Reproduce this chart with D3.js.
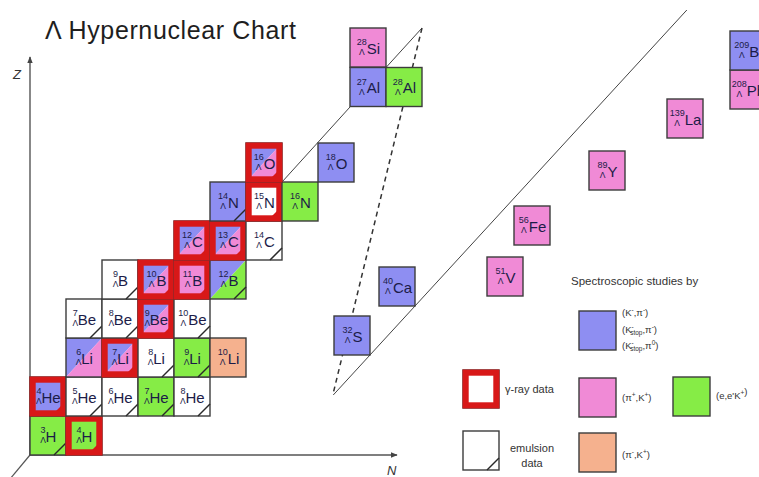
<!DOCTYPE html>
<html>
<head>
<meta charset="utf-8">
<script src="https://cdn.jsdelivr.net/npm/d3@7/dist/d3.min.js"></script>
<style>
  body { margin: 0; background: #fff; }
  svg { display: block; font-family: "Liberation Sans", Arial, sans-serif; }
</style>
</head>
<body>
<svg id="chart" width="759" height="477"></svg>
<script>
// Probe keys: K = (K-,pi-) / stopped K-, P = (pi+,K+), E = (e,e'K+), M = (pi-,K+)
// Each nuclide: [element, A, Z, probes, gamma-ray data, emulsion data]
const lightNuclides = [
  ["H", 3, 1, ["E"], false, true],
  ["H", 4, 1, ["E"], true, true],
  ["He", 4, 2, ["K"], true, true],
  ["He", 5, 2, [], false, true],
  ["He", 6, 2, [], false, true],
  ["He", 7, 2, ["E"], false, true],
  ["He", 8, 2, [], false, true],
  ["Li", 6, 3, ["K", "P"], false, false],
  ["Li", 7, 3, ["K", "P"], true, true],
  ["Li", 8, 3, [], false, true],
  ["Li", 9, 3, ["E"], false, true],
  ["Li", 10, 3, ["M"], false, false],
  ["Be", 7, 4, [], false, true],
  ["Be", 8, 4, [], false, true],
  ["Be", 9, 4, ["K", "P"], true, true],
  ["Be", 10, 4, [], false, true],
  ["B", 9, 5, [], false, true],
  ["B", 10, 5, ["K", "P"], true, true],
  ["B", 11, 5, ["P"], true, true],
  ["B", 12, 5, ["K", "E"], false, true],
  ["C", 12, 6, ["K", "P"], true, true],
  ["C", 13, 6, ["K", "P"], true, true],
  ["C", 14, 6, [], false, true],
  ["N", 14, 7, ["K"], false, true],
  ["N", 15, 7, [], true, true],
  ["N", 16, 7, ["E"], false, false],
  ["O", 16, 8, ["K", "P"], true, true],
  ["O", 18, 8, ["K"], false, false]
];

const midNuclides = [
  ["Al", 27, 13, ["K"], false, false],
  ["Al", 28, 13, ["E"], false, false],
  ["Si", 28, 14, ["P"], false, false]
];

const heavyNuclides = [
  ["S", 32, 16, ["K"], false, false],
  ["Ca", 40, 20, ["K"], false, false],
  ["V", 51, 23, ["P"], false, false],
  ["Fe", 56, 26, ["P"], false, false],
  ["Y", 89, 39, ["P"], false, false],
  ["La", 139, 57, ["P"], false, false],
  ["Pb", 208, 82, ["P"], false, false],
  ["Bi", 209, 83, ["K"], false, false]
];

// Schematic (compressed) N and Z axes of the heavy section
const heavyN = [15, 19, 27, 29, 49, 81, 125];
const heavyZ = [16, 20, 23, 26, 39, 57, 82, 83];

const probeColor = { K: "#8e8ef2", P: "#f08ad6", E: "#86ec46", M: "#f5b18e" };
const probeLabels = {
  K: [["(K", "-", "", ",π", "-", ")"], ["(K", "-", "stop", ",π", "-", ")"], ["(K", "-", "stop", ",π", "0", ")"]],
  P: [["(π", "+", "", ",K", "+", ")"]],
  E: [["(e,e'K", "+", "", "", "", ")"]],
  M: [["(π", "-", "", ",K", "+", ")"]]
};

const W = 36, H = 39;
const gammaRed = "#d81818";
const edge = "#3c3c3c";
const ink = "#1c1c48";

const svg = d3.select("#chart");

// Scales: left edge of column N, top edge of row Z
const xLight = d3.scaleLinear().domain([1, 10]).range([30, 354]);
const yLight = d3.scaleLinear().domain([0, 8]).range([455, 143]);
const xMid = d3.scaleLinear().domain([13, 15]).range([350, 422]);
const yMid = d3.scaleLinear().domain([12, 14]).range([107, 28]);
const xHeavy = d3.scaleLinear().domain(heavyN).range([334, 379, 487, 514, 589, 667, 730]);
const yHeavy = d3.scaleLinear().domain(heavyZ).range([316, 267, 257, 206, 151, 99, 70, 31]);

const neutrons = d => d[1] - 1 - d[2];

// Title
svg.append("text").attr("x", 45).attr("y", 39)
  .attr("font-size", 25).attr("fill", "#1e1e1e")
  .attr("textLength", 251).attr("lengthAdjust", "spacing")
  .text("Λ Hypernuclear Chart");

// Axes
const defs = svg.append("defs");
defs.append("marker").attr("id", "arrow").attr("viewBox", "0 0 10 10")
  .attr("refX", 9).attr("refY", 5).attr("markerWidth", 5).attr("markerHeight", 5)
  .attr("orient", "auto")
  .append("path").attr("d", "M0,1L10,5L0,9Z").attr("fill", "#444");

const ox = xLight(1), oy = yLight(0);
svg.append("line").attr("x1", ox).attr("y1", oy).attr("x2", ox).attr("y2", 57)
  .attr("stroke", "#555").attr("stroke-width", 1.4).attr("marker-end", "url(#arrow)");
svg.append("line").attr("x1", ox).attr("y1", oy).attr("x2", 397).attr("y2", oy)
  .attr("stroke", "#555").attr("stroke-width", 1.4).attr("marker-end", "url(#arrow)");
svg.append("line").attr("x1", ox).attr("y1", oy).attr("x2", 10).attr("y2", 479)
  .attr("stroke", "#555").attr("stroke-width", 1.2);
svg.append("text").attr("x", 13).attr("y", 79).attr("font-size", 13)
  .attr("font-style", "italic").attr("fill", "#333").text("Z");
svg.append("text").attr("x", 387).attr("y", 475).attr("font-size", 13)
  .attr("font-style", "italic").attr("fill", "#333").text("N");

// Line helpers
function extendTo(p, q, yStart, yEnd) {
  const k = (q[0] - p[0]) / (q[1] - p[1]);
  return [[p[0] + (yStart - p[1]) * k, yStart], [p[0] + (yEnd - p[1]) * k, yEnd]];
}
const guide = svg.append("g").attr("fill", "none");

// N = Z boundary through the light and mid sections
guide.append("line")
  .attr("x1", xLight(8)).attr("y1", yLight(7)).attr("x2", xMid(13)).attr("y2", yMid(12))
  .attr("stroke", "#444").attr("stroke-width", 1);
guide.append("line")
  .attr("x1", xMid(14)).attr("y1", yMid(13)).attr("x2", xMid(15)).attr("y2", yMid(14))
  .attr("stroke", "#444").attr("stroke-width", 1);

// Dashed break line
const dashed = extendTo([xMid(15), yMid(14)], [xHeavy(15) + W / 2, yHeavy(16)], yMid(14), 395);
guide.append("line")
  .attr("x1", dashed[0][0]).attr("y1", dashed[0][1]).attr("x2", dashed[1][0]).attr("y2", dashed[1][1])
  .attr("stroke", "#333").attr("stroke-width", 1.5).attr("stroke-dasharray", "5,4");

// N = Z boundary in the heavy section
const longLine = extendTo([xHeavy(15) + W, yHeavy(16) + H], [xHeavy(19) + W, yHeavy(20) + H], 395, 10);
guide.append("line")
  .attr("x1", longLine[0][0]).attr("y1", longLine[0][1]).attr("x2", longLine[1][0]).attr("y2", longLine[1][1])
  .attr("stroke", "#444").attr("stroke-width", 1);

// Cells
function drawCell(parent, x, y, d) {
  const [el, A, , probes, gamma, emul] = d;
  const g = parent.append("g").attr("transform", `translate(${x},${y})`);
  if (probes.length === 0) {
    g.append("rect").attr("width", W).attr("height", H).attr("fill", "#fff");
  } else if (probes.length === 1) {
    g.append("rect").attr("width", W).attr("height", H).attr("fill", probeColor[probes[0]]);
  } else {
    g.append("path").attr("d", `M0,0H${W}L0,${H}Z`).attr("fill", probeColor[probes[0]]);
    g.append("path").attr("d", `M${W},0V${H}H0Z`).attr("fill", probeColor[probes[1]]);
  }
  g.append("rect").attr("width", W).attr("height", H)
    .attr("fill", "none").attr("stroke", edge).attr("stroke-width", 1.4);
  if (gamma) {
    if (emul) {
      g.append("path").attr("d", `M${W - 15},${H}L${W},${H - 15}V${H}Z`).attr("fill", gammaRed);
    }
    g.append("rect").attr("x", 2.6).attr("y", 2.6).attr("width", W - 5.2).attr("height", H - 5.2)
      .attr("fill", "none").attr("stroke", gammaRed).attr("stroke-width", 6.2);
  } else if (emul) {
    g.append("line").attr("x1", W - 12).attr("y1", H).attr("x2", W).attr("y2", H - 12)
      .attr("stroke", "#2a2a2a").attr("stroke-width", 1.5);
  }
  // Label: mass number over Λ, then element symbol
  const t = g.append("text").attr("y", 25.5).attr("fill", ink);
  const m = t.append("tspan").attr("font-size", 9).attr("dy", -8.5).text(A);
  t.append("tspan").attr("font-size", 15).attr("dy", 8.5).text(el);
  const massW = m.node().getComputedTextLength();
  const total = t.node().getComputedTextLength();
  const x0 = W / 2 - total / 2 + 0.5;
  t.attr("x", x0);
  g.append("text").attr("x", x0 + massW / 2).attr("y", 27)
    .attr("text-anchor", "middle").attr("font-size", 8.5).attr("fill", ink).text("Λ");
}

const cells = svg.append("g");
lightNuclides.forEach(d => drawCell(cells, xLight(neutrons(d)), yLight(d[2]), d));
midNuclides.forEach(d => drawCell(cells, xMid(neutrons(d)), yMid(d[2]), d));
heavyNuclides.forEach(d => drawCell(cells, xHeavy(neutrons(d)), yHeavy(d[2]), d));

// Legend
const legend = svg.append("g").attr("fill", "#333");
legend.append("text").attr("x", 571).attr("y", 285).attr("font-size", 11.5)
  .text("Spectroscopic studies by");

function swatch(x, y, fill) {
  legend.append("rect").attr("x", x).attr("y", y).attr("width", 37).attr("height", 39)
    .attr("fill", fill).attr("stroke", edge).attr("stroke-width", 1.4);
}
function probeText(x, y, parts) {
  const [a, sup1, sub, b, sup2, c] = parts;
  const t = legend.append("text").attr("x", x).attr("y", y).attr("font-size", 9.5);
  t.append("tspan").text(a);
  if (sup1) t.append("tspan").attr("font-size", 6.5).attr("dy", -4).text(sup1);
  if (sub) t.append("tspan").attr("font-size", 6.5).attr("dy", 6).attr("dx", -3.5).text(sub);
  const back = (sup1 ? 4 : 0) - (sub ? 6 : 0);
  t.append("tspan").attr("dy", back).text(b);
  if (sup2) t.append("tspan").attr("font-size", 6.5).attr("dy", -4).text(sup2);
  t.append("tspan").attr("dy", sup2 ? 4 : 0).text(c);
}

swatch(579, 311, probeColor.K);
probeLabels.K.forEach((p, i) => probeText(622, 316 + i * 16.5, p));
swatch(579, 378, probeColor.P);
probeText(622, 401, probeLabels.P[0]);
swatch(673, 377, probeColor.E);
probeText(716, 399, probeLabels.E[0]);
swatch(579, 433, probeColor.M);
probeText(622, 458, probeLabels.M[0]);

// gamma-ray legend
legend.append("rect").attr("x", 463).attr("y", 370).attr("width", 36).attr("height", 38)
  .attr("fill", "#fff").attr("stroke", edge).attr("stroke-width", 1.4);
legend.append("rect").attr("x", 465.6).attr("y", 372.6).attr("width", 30.8).attr("height", 32.8)
  .attr("fill", "none").attr("stroke", gammaRed).attr("stroke-width", 6.2);
legend.append("text").attr("x", 505).attr("y", 393).attr("font-size", 11).text("γ-ray data");

// emulsion legend
legend.append("rect").attr("x", 463).attr("y", 431).attr("width", 36).attr("height", 39)
  .attr("fill", "#fff").attr("stroke", edge).attr("stroke-width", 1.4);
legend.append("line").attr("x1", 487).attr("y1", 470).attr("x2", 499).attr("y2", 458)
  .attr("stroke", "#2a2a2a").attr("stroke-width", 1.5);
legend.append("text").attr("x", 532).attr("y", 452).attr("font-size", 11)
  .attr("text-anchor", "middle").text("emulsion");
legend.append("text").attr("x", 532).attr("y", 467).attr("font-size", 11)
  .attr("text-anchor", "middle").text("data");
</script>
</body>
</html>
